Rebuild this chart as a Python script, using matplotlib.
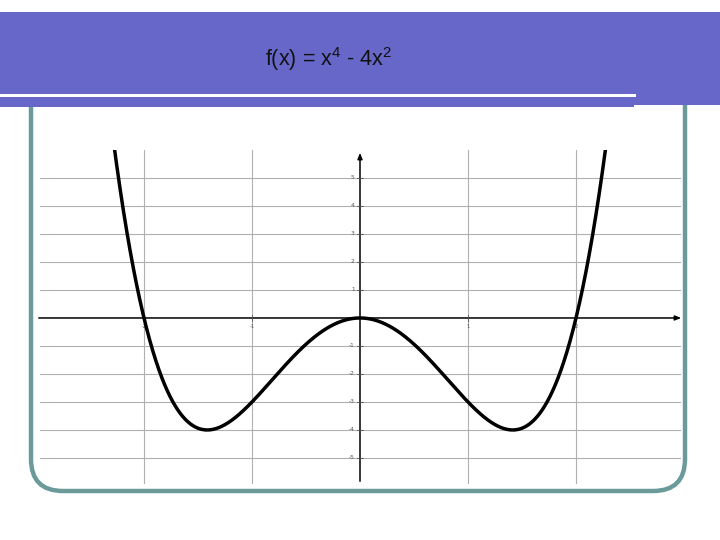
import numpy as np
import matplotlib
matplotlib.use("Agg")
from matplotlib import pyplot as plt
from matplotlib.patches import Rectangle, FancyBboxPatch

# wielomian f(x) = x^4 - 4x^2 (wspolczynniki od najwyzszej potegi)
coeffs = [1, 0, -4, 0, 0]
title = r"f(x) = x$^{4}$ - 4x$^{2}$"
x_ticks = [-2, -1, 1, 2]
y_ticks = [-5, -4, -3, -2, -1, 1, 2, 3, 4, 5]
x_range = [-3.0, 3.0]
y_range = [-5.93, 6.0]

plt.rcParams['mathtext.fontset'] = 'custom'
plt.rcParams['mathtext.rm'] = 'Liberation Sans'
plt.rcParams['mathtext.it'] = 'Liberation Sans:italic'

blue = '#6767c9'
teal = '#6b9a9a'

fig = plt.figure(figsize=(7.2, 5.4), dpi=100)

# tlo slajdu w pikselach
bg = fig.add_axes([0, 0, 1, 1])
bg.set_xlim(0, 720)
bg.set_ylim(540, 0)
bg.axis('off')
box = FancyBboxPatch((31, 60), 654, 431, boxstyle="round,pad=0,rounding_size=32",
                     fc='white', ec=teal, lw=3.2, zorder=1)
bg.add_patch(box)
bg.add_patch(Rectangle((0, 12), 720, 82, fc=blue, ec='none', zorder=2))
bg.add_patch(Rectangle((0, 97), 634, 10, fc=blue, ec='none', zorder=2))
bg.add_patch(Rectangle((634, 12), 86, 93, fc=blue, ec='none', zorder=2))
bg.add_patch(Rectangle((0, 94), 636, 3, fc='white', ec='none', zorder=3))
bg.text(265, 59, title, ha='left', va='center', fontsize=15.5,
        family='Liberation Sans', color='#111111', zorder=4)

# wykres
ax = fig.add_axes([36/720, 1-484/540, 648/720, 334/540])
ax.set_xlim(x_range)
ax.set_ylim(y_range)
ax.patch.set_alpha(0)
for s in ax.spines.values():
    s.set_visible(False)
ax.set_xticks([])
ax.set_yticks([])

for xv in x_ticks:
    ax.axvline(xv, color='#b0b0b0', lw=0.8, zorder=1)
for yv in y_ticks:
    ax.plot([-2.96, 2.96], [yv, yv], color='#b0b0b0', lw=0.8, zorder=1)

# osie ze strzalkami
ax.annotate('', xy=(3.0, 0), xytext=(-3.0, 0),
            arrowprops=dict(arrowstyle='-|>,head_length=0.35,head_width=0.14', color='black', lw=1.1),
            zorder=3)
ax.annotate('', xy=(0, 6.0), xytext=(0, -5.93),
            arrowprops=dict(arrowstyle='-|>,head_length=0.35,head_width=0.14', color='black', lw=1.1),
            zorder=3)

for xv in x_ticks:
    ax.plot([xv, xv], [-0.1, 0.1], color='#555555', lw=0.6, zorder=3)
    ax.text(xv, -0.2, str(xv), ha='center', va='top', fontsize=3.8, color='#555555')
for yv in y_ticks:
    ax.plot([-0.03, 0.03], [yv, yv], color='#555555', lw=0.6, zorder=3)
    ax.text(-0.05, yv, str(yv), ha='right', va='center', fontsize=4.2, color='#555555')

x = np.linspace(-2.4, 2.4, 800)
y = np.polyval(coeffs, x)
ax.plot(x, y, color='black', lw=2.5, zorder=4, solid_capstyle='butt')

fig.savefig('out.png', dpi=100)
